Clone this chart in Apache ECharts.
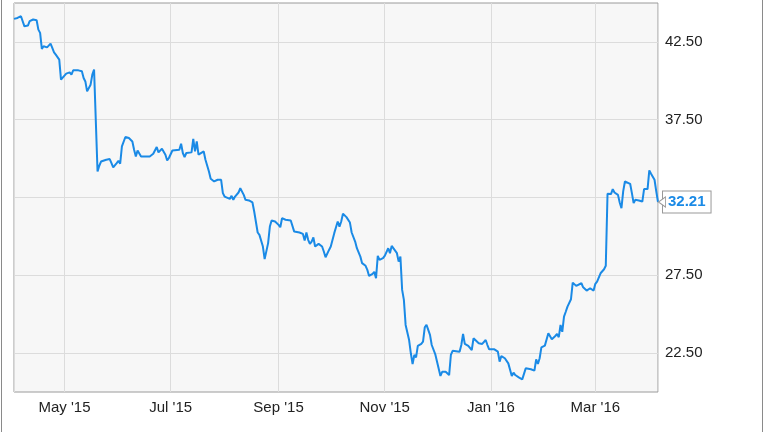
<!DOCTYPE html>
<html>
<head>
<meta charset="utf-8">
<script src="https://cdn.jsdelivr.net/npm/echarts@6/dist/echarts.min.js"></script>
<style>
html,body{margin:0;padding:0;background:#fff;}
#chart{width:764px;height:432px;}
</style>
</head>
<body>
<div id="chart"></div>
<script>
const dates = [
'2015-04-02','2015-04-04','2015-04-06','2015-04-08','2015-04-10','2015-04-11','2015-04-13','2015-04-15','2015-04-16','2015-04-17',
'2015-04-18','2015-04-19','2015-04-20','2015-04-21','2015-04-23','2015-04-24','2015-04-25','2015-04-26','2015-04-28','2015-04-29',
'2015-04-30','2015-05-02','2015-05-04','2015-05-05','2015-05-06','2015-05-09','2015-05-11','2015-05-12','2015-05-13','2015-05-14',
'2015-05-16','2015-05-17','2015-05-18','2015-05-20','2015-05-21','2015-05-22','2015-05-25','2015-05-27','2015-05-28','2015-05-29',
'2015-05-31','2015-06-01','2015-06-02','2015-06-03','2015-06-05','2015-06-07','2015-06-09','2015-06-10','2015-06-11','2015-06-12',
'2015-06-14','2015-06-15','2015-06-16','2015-06-17','2015-06-19','2015-06-21','2015-06-23','2015-06-24','2015-06-26','2015-06-28',
'2015-06-29','2015-06-30','2015-07-02','2015-07-03','2015-07-06','2015-07-07','2015-07-08','2015-07-09','2015-07-10','2015-07-13',
'2015-07-14','2015-07-15','2015-07-16','2015-07-17','2015-07-18','2015-07-20','2015-07-21','2015-07-22','2015-07-23','2015-07-24',
'2015-07-26','2015-07-27','2015-07-28','2015-07-30','2015-07-31','2015-08-01','2015-08-04','2015-08-05','2015-08-06','2015-08-07',
'2015-08-09','2015-08-10','2015-08-12','2015-08-13','2015-08-15','2015-08-17','2015-08-18','2015-08-20','2015-08-21','2015-08-23',
'2015-08-24','2015-08-26','2015-08-27','2015-08-28','2015-08-30','2015-09-01','2015-09-02','2015-09-03','2015-09-05','2015-09-08',
'2015-09-10','2015-09-13','2015-09-15','2015-09-16','2015-09-17','2015-09-18','2015-09-19','2015-09-20','2015-09-21','2015-09-22',
'2015-09-24','2015-09-26','2015-09-27','2015-09-28','2015-09-30','2015-10-01','2015-10-02','2015-10-03','2015-10-04','2015-10-05',
'2015-10-06','2015-10-07','2015-10-08','2015-10-10','2015-10-12','2015-10-13','2015-10-15','2015-10-16','2015-10-18','2015-10-19',
'2015-10-21','2015-10-22','2015-10-23','2015-10-25','2015-10-26','2015-10-27','2015-10-28','2015-10-29','2015-10-31','2015-11-01',
'2015-11-03','2015-11-04','2015-11-05','2015-11-06','2015-11-08','2015-11-09','2015-11-10','2015-11-11','2015-11-12','2015-11-13',
'2015-11-15','2015-11-16','2015-11-17','2015-11-18','2015-11-19','2015-11-20','2015-11-22','2015-11-23','2015-11-24','2015-11-25',
'2015-11-27','2015-11-28','2015-11-30','2015-12-01','2015-12-03','2015-12-04','2015-12-06','2015-12-08','2015-12-09','2015-12-10',
'2015-12-11','2015-12-14','2015-12-15','2015-12-16','2015-12-17','2015-12-19','2015-12-21','2015-12-22','2015-12-23','2015-12-25',
'2015-12-27','2015-12-29','2015-12-30','2015-12-31','2016-01-03','2016-01-05','2016-01-06','2016-01-07','2016-01-09','2016-01-11',
'2016-01-12','2016-01-13','2016-01-14','2016-01-15','2016-01-17','2016-01-19','2016-01-21','2016-01-22','2016-01-24','2016-01-26',
'2016-01-27','2016-01-28','2016-01-29','2016-01-30','2016-02-01','2016-02-02','2016-02-03','2016-02-04','2016-02-05','2016-02-07',
'2016-02-08','2016-02-09','2016-02-10','2016-02-11','2016-02-12','2016-02-13','2016-02-14','2016-02-16','2016-02-17','2016-02-19',
'2016-02-20','2016-02-22','2016-02-23','2016-02-24','2016-02-25','2016-02-27','2016-02-28','2016-02-29','2016-03-01','2016-03-02',
'2016-03-04','2016-03-06','2016-03-07','2016-03-08','2016-03-10','2016-03-11','2016-03-12','2016-03-14','2016-03-15','2016-03-16',
'2016-03-17','2016-03-18','2016-03-19','2016-03-21','2016-03-22','2016-03-23','2016-03-24','2016-03-26','2016-03-28','2016-03-29',
'2016-03-31','2016-04-01','2016-04-02','2016-04-04','2016-04-05','2016-04-06'
];
const prices = [
43.98,44.04,44.15,43.50,43.55,43.83,43.94,43.89,43.29,43.08,
42.05,42.22,42.33,42.15,42.39,42.11,41.83,41.68,41.36,40.07,
40.07,40.46,40.54,40.40,40.67,40.67,40.61,40.18,39.96,39.32,
39.75,40.40,40.72,34.17,34.54,34.81,34.93,34.97,34.71,34.43,
34.71,34.86,34.67,35.78,36.39,36.32,36.10,35.57,35.14,35.52,
35.14,35.04,35.14,35.04,35.14,35.31,35.74,35.40,35.63,35.25,
34.88,35.04,35.52,35.57,35.57,35.96,35.36,35.10,35.36,35.40,
36.26,35.46,36.10,35.25,35.36,35.46,34.93,34.82,34.17,33.70,
33.53,33.43,33.64,33.64,32.78,32.56,32.41,32.61,32.35,32.56,
32.82,33.10,32.67,32.35,32.31,32.18,31.60,30.25,30.10,29.35,
28.54,29.57,30.63,31.02,30.96,30.74,30.59,31.17,31.07,31.02,
30.31,30.25,30.16,29.73,30.25,29.78,29.52,29.67,29.93,29.35,
29.52,29.35,29.03,28.66,29.13,29.35,29.24,30.21,30.59,30.96,
30.63,30.96,31.45,31.24,30.89,30.25,29.67,29.24,28.70,28.28,
28.11,27.85,27.46,27.59,27.72,27.31,28.75,28.49,28.60,28.75,
29.24,28.92,29.39,29.39,28.92,28.38,28.70,26.56,25.92,24.31,
23.34,22.49,21.80,22.38,22.23,22.96,23.09,23.23,24.16,24.31,
23.67,23.02,22.44,22.44,21.03,21.30,21.30,21.09,22.38,22.65,
22.74,22.59,23.02,23.73,23.09,22.96,22.70,23.45,23.39,23.13,
23.09,23.34,23.02,22.74,22.74,22.59,21.95,22.31,22.17,21.84,
21.88,21.03,21.24,21.09,20.94,20.81,21.52,21.62,21.46,21.37,
22.10,21.80,22.17,22.87,22.98,23.09,23.77,23.73,23.39,23.60,
23.73,23.52,24.31,23.87,24.84,25.16,25.49,25.96,27.03,26.82,
26.88,26.99,26.73,26.82,26.52,26.67,26.61,26.52,26.95,27.09,
27.63,27.89,28.11,32.74,32.72,33.04,32.82,32.67,32.18,31.82,
32.89,33.53,33.46,33.38,32.78,32.14,32.35,32.31,32.24,33.04,
33.04,34.24,34.03,33.64,32.89,32.21
];
const monthNames = ['Jan','Feb','Mar','Apr','May','Jun','Jul','Aug','Sep','Oct','Nov','Dec'];
const yMin = 20, yMax = 45, yStep = 2.5;

const lineColor = '#1a8ae6';
const seriesData = dates.map((d, i) => [d, prices[i]]);
const last = seriesData[seriesData.length - 1];

const chart = echarts.init(document.getElementById('chart'), null, {renderer: 'canvas'});
chart.setOption({
  animation: false,
  backgroundColor: '#ffffff',
  textStyle: {fontFamily: 'Liberation Sans, Arial, sans-serif'},
  grid: {
    left: 14, right: 106, top: 3, bottom: 40,
    show: true, backgroundColor: '#f7f7f7', borderColor: '#9a9a9a', borderWidth: 1
  },
  xAxis: {
    type: 'time',
    min: dates[0],
    max: dates[dates.length - 1],
    splitNumber: 6,
    axisLine: {show: false},
    axisTick: {show: false},
    splitLine: {show: true, lineStyle: {color: '#dcdcdc', width: 1}},
    axisLabel: {
      color: '#222', fontSize: 15, margin: 8,
      showMinLabel: false, showMaxLabel: false,
      formatter: function (value) {
        const d = new Date(value);
        return monthNames[d.getMonth()] + " '" + String(d.getFullYear()).slice(2);
      }
    }
  },
  yAxis: {
    type: 'value',
    position: 'right',
    min: yMin, max: yMax, interval: yStep,
    axisLine: {show: false},
    axisTick: {show: false},
    splitLine: {show: true, lineStyle: {color: ['rgba(0,0,0,0)', '#dcdcdc'], width: 1}},
    axisLabel: {
      color: '#222', fontSize: 15, margin: 7,
      formatter: function (v) {
        return (Math.round(v * 10) % 10 === 5) ? v.toFixed(2) : '';
      }
    }
  },
  series: [{
    type: 'line',
    data: seriesData,
    showSymbol: false,
    symbol: 'none',
    lineStyle: {color: lineColor, width: 2},
    itemStyle: {color: lineColor},
    endLabel: {
      show: true,
      distance: 5,
      formatter: function (p) { return p.value[1].toFixed(2); },
      color: lineColor,
      fontWeight: 'bold',
      fontSize: 15,
      backgroundColor: '#ffffff',
      borderColor: '#999999',
      borderWidth: 1,
      padding: [3, 5, 3, 5]
    },
    markPoint: {
      silent: true,
      symbol: 'triangle',
      symbolSize: [10, 7],
      symbolRotate: 90,
      symbolOffset: [4, 0],
      itemStyle: {color: '#ffffff', borderColor: '#999999', borderWidth: 1},
      label: {show: false},
      data: [{coord: last}]
    }
  }],
  graphic: [
    {type: 'line', shape: {x1: 1.5, y1: 0, x2: 1.5, y2: 432}, style: {stroke: '#8a8a8a', lineWidth: 1}},
    {type: 'line', shape: {x1: 762.5, y1: 0, x2: 762.5, y2: 432}, style: {stroke: '#8a8a8a', lineWidth: 1}}
  ]
});
</script>
</body>
</html>
